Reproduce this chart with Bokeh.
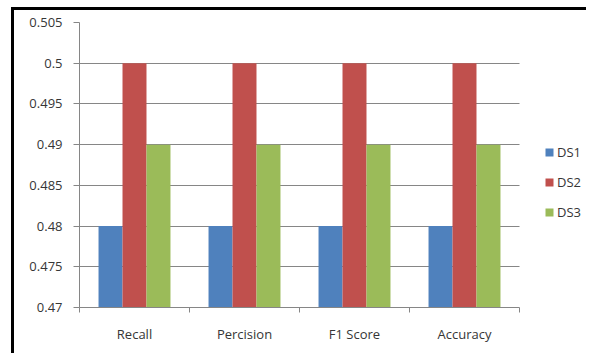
from bokeh.plotting import figure
from bokeh.models import (ColumnDataSource, Range1d, FixedTicker, Legend,
                          LegendItem)
from bokeh.transform import dodge
from bokeh.embed import file_html
from bokeh.resources import INLINE

categories = ["Recall", "Percision", "F1 Score", "Accuracy"]
ds1 = [0.48, 0.48, 0.48, 0.48]
ds2 = [0.5, 0.5, 0.5, 0.5]
ds3 = [0.49, 0.49, 0.49, 0.49]
series_names = ["DS1", "DS2", "DS3"]
series_colors = ["#4F81BD", "#C0504D", "#9BBB59"]
y_ticks = [0.47, 0.475, 0.48, 0.485, 0.49, 0.495, 0.5, 0.505]
y_tick_labels = ["0.47", "0.475", "0.48", "0.485", "0.49", "0.495", "0.5", "0.505"]

FONT = "Open Sans"
TEXT = "#363636"
GRID = "#868686"
BAR_W = 0.218

# plot area: 440 px for the categories plus 70 px on the right for the legend
CAT_PX, FRAME_PX = 440, 510
n = len(categories)
x_end = n * FRAME_PX / CAT_PX

centers = [i + 0.5 for i in range(n)]
src = ColumnDataSource(dict(x=centers, ds1=ds1, ds2=ds2, ds3=ds3))

p = figure(width=575, height=346,
           x_range=Range1d(0, x_end), y_range=Range1d(0.47, 0.505),
           output_backend="svg", toolbar_location=None,
           min_border_left=65, min_border_right=0,
           min_border_top=12, min_border_bottom=49)
p.outline_line_color = None
p.background_fill_color = "white"
p.border_fill_color = "white"
# black frame along the top and left edges of the chart
p.margin = (7, 0, 0, 11)
p.styles = {"border-top": "3px solid black", "border-left": "3px solid black"}

renderers = []
for key, off, color in zip(["ds1", "ds2", "ds3"], [-BAR_W, 0, BAR_W], series_colors):
    r = p.vbar(x=dodge("x", off, range=p.x_range), top=key, bottom=0.47,
               width=BAR_W, source=src, fill_color=color, line_color=None)
    renderers.append(r)

# y axis
p.yaxis.ticker = FixedTicker(ticks=y_ticks)
p.yaxis.major_label_overrides = {t: l for t, l in zip(y_ticks, y_tick_labels)}
p.yaxis.axis_line_color = GRID
p.yaxis.major_tick_line_color = GRID
p.yaxis.major_tick_out = 6
p.yaxis.major_tick_in = 0
p.yaxis.minor_tick_line_color = None
p.yaxis.major_label_standoff = 11
p.yaxis.major_label_text_font = FONT
p.yaxis.major_label_text_font_size = "13px"
p.yaxis.major_label_text_color = TEXT

# x axis: labels at category centers, tick marks between categories
p.xaxis.ticker = FixedTicker(ticks=centers, minor_ticks=list(range(n + 1)))
p.xaxis.major_label_overrides = {c: name for c, name in zip(centers, categories)}
p.xaxis.bounds = (0, n)
p.xaxis.axis_line_color = GRID
p.xaxis.major_tick_line_color = None
p.xaxis.major_tick_out = 0
p.xaxis.major_tick_in = 0
p.xaxis.minor_tick_line_color = GRID
p.xaxis.minor_tick_out = 5
p.xaxis.minor_tick_in = 0
p.xaxis.major_label_standoff = 12
p.xaxis.major_label_text_font = FONT
p.xaxis.major_label_text_font_size = "13px"
p.xaxis.major_label_text_color = TEXT

p.xgrid.grid_line_color = None
p.ygrid.grid_line_color = GRID
p.ygrid.grid_line_width = 1
p.ygrid.ticker = FixedTicker(ticks=y_ticks)
p.ygrid.cross_bounds = (0, n)

legend = Legend(items=[LegendItem(label=s, renderers=[r]) for s, r in zip(series_names, renderers)],
                location=(465, 84), glyph_width=10, glyph_height=10, label_height=22,
                label_standoff=3, spacing=8, padding=0, margin=0,
                border_line_color=None, background_fill_alpha=0,
                label_text_font=FONT, label_text_font_size="13px",
                label_text_color=TEXT)
p.add_layout(legend, "center")

open("out.html", "w").write(file_html(p, INLINE))
